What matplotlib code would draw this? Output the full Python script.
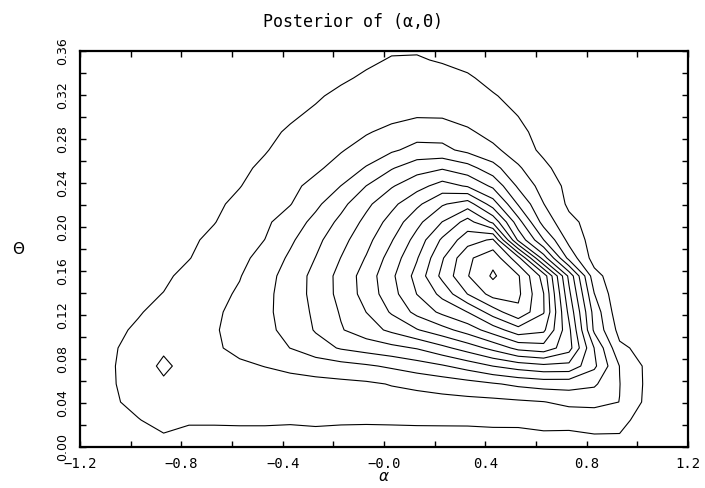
import matplotlib
matplotlib.use('Agg')
import matplotlib.pyplot as plt
from matplotlib.ticker import MultipleLocator

# grid nodes of the posterior surface
alpha_nodes = [-1.07, -0.97, -0.87, -0.77, -0.67, -0.57, -0.47, -0.37, -0.27, -0.17, -0.07,
               0.03, 0.13, 0.23, 0.33, 0.43, 0.53, 0.63, 0.73, 0.83, 0.93, 1.03]
theta_nodes = [0.0082, 0.0245, 0.0409, 0.0573, 0.0736, 0.0900, 0.1064, 0.1227, 0.1391, 0.1555,
               0.1718, 0.1882, 0.2045, 0.2209, 0.2373, 0.2536, 0.2700, 0.2864, 0.3027, 0.3191,
               0.3355, 0.3518, 0.3682]

# posterior height (in contour-level units), one row per theta node
density = [
    [0.3, 0.4, 0.85, 0.75, 0.7, 0.68, 0.68, 0.65, 0.68, 0.6, 0.63, 0.6, 0.6, 0.58, 0.6, 0.68, 0.65, 0.8, 0.78, 0.9, 0.9, 0.3],
    [0.6, 0.95, 1.4, 1.1, 1.12, 1.15, 1.15, 1.12, 1.18, 1.15, 1.12, 1.15, 1.18, 1.2, 1.2, 1.22, 1.25, 1.3, 1.3, 1.35, 1.3, 0.6],
    [0.85, 1.35, 1.65, 1.45, 1.35, 1.35, 1.37, 1.4, 1.45, 1.5, 1.55, 1.6, 1.65, 1.68, 1.72, 1.75, 1.85, 1.97, 2.25, 2.3, 1.99, 0.85],
    [0.92, 1.55, 1.92, 1.7, 1.62, 1.6, 1.62, 1.65, 1.7, 1.76, 1.85, 2.05, 2.2, 2.4, 2.62, 2.9, 3.2, 3.4, 3.4, 3.15, 2.02, 0.9],
    [0.92, 1.75, 2.1, 1.81, 1.8, 1.85, 2.02, 2.23, 2.45, 2.66, 2.87, 3.15, 3.52, 3.89, 4.41, 5.01, 5.45, 5.75, 5.7, 4.2, 1.98, 0.88],
    [0.88, 1.48, 1.92, 1.75, 1.88, 2.22, 2.61, 3.01, 3.59, 4.09, 4.41, 4.72, 5.07, 5.73, 6.46, 7.3, 8.3, 8.6, 7.4, 3.98, 1.2, 0.7],
    [0.78, 1.15, 1.6, 1.65, 1.93, 2.28, 2.75, 3.31, 4.08, 4.92, 5.56, 6.21, 6.93, 7.64, 8.45, 9.5, 10.6, 10.2, 7.25, 2.8, 0.68, 0.25],
    [0.6, 0.92, 1.32, 1.55, 1.86, 2.26, 2.79, 3.43, 4.18, 5.09, 6.01, 7.12, 8.3, 9.23, 10.01, 11.5, 12.8, 11.07, 6.75, 2.6, 0.31, 0.1],
    [0.5, 0.8, 1.02, 1.38, 1.72, 2.12, 2.75, 3.46, 4.3, 5.3, 6.38, 7.62, 9.02, 10.29, 12.02, 13.4, 13.2, 11.02, 6.25, 2.02, 0.2, 0.05],
    [0.45, 0.7, 0.86, 1.22, 1.58, 1.95, 2.63, 3.42, 4.3, 5.32, 6.44, 7.79, 9.35, 11.27, 12.95, 14.15, 13.1, 10.6, 5.75, 1.35, 0.3, 0.1],
    [0.4, 0.62, 0.72, 0.97, 1.36, 1.76, 2.33, 3.17, 4.02, 5.02, 6.07, 7.43, 8.92, 10.9, 12.8, 13.7, 11.33, 6.5, 2.67, 0.58, 0.2, 0.05],
    [0.35, 0.55, 0.62, 0.85, 1.2, 1.6, 2.01, 2.83, 3.73, 4.67, 5.68, 6.93, 8.38, 10.17, 11.56, 12.15, 6.8, 4.02, 1.7, 0.6, 0.22, 0.05],
    [0.3, 0.48, 0.53, 0.75, 0.97, 1.39, 1.83, 2.46, 3.29, 4.25, 5.26, 6.38, 7.71, 9.02, 10.4, 8.8, 5.4, 2.6, 1.25, 0.62, 0.22, 0.05],
    [0.27, 0.42, 0.46, 0.65, 0.85, 1.19, 1.58, 1.96, 2.78, 3.71, 4.78, 5.73, 6.78, 7.89, 8.5, 6.5, 3.9, 2.02, 0.82, 0.5, 0.2, 0.05],
    [0.25, 0.37, 0.4, 0.57, 0.75, 0.97, 1.36, 1.76, 2.29, 3.01, 4.01, 4.91, 5.64, 6.4, 5.9, 4.8, 2.83, 1.58, 0.75, 0.45, 0.18, 0.05],
    [0.22, 0.33, 0.35, 0.5, 0.66, 0.85, 1.14, 1.48, 1.83, 2.36, 3.08, 3.92, 4.6, 4.9, 4.4, 3.38, 2.12, 1.25, 0.42, 0.3, 0.15, 0.04],
    [0.2, 0.28, 0.3, 0.44, 0.58, 0.74, 0.95, 1.27, 1.6, 1.93, 2.38, 2.86, 3.3, 3.25, 2.74, 2.21, 1.54, 0.77, 0.4, 0.25, 0.12, 0.04],
    [0.18, 0.25, 0.26, 0.38, 0.5, 0.64, 0.85, 1.08, 1.36, 1.64, 1.92, 2.25, 2.6, 2.6, 2.15, 1.67, 1.19, 0.72, 0.38, 0.22, 0.1, 0.03],
    [0.16, 0.22, 0.23, 0.33, 0.44, 0.56, 0.7, 0.9, 1.1, 1.3, 1.5, 1.7, 1.85, 1.82, 1.6, 1.3, 0.97, 0.6, 0.33, 0.2, 0.1, 0.03],
    [0.14, 0.19, 0.2, 0.28, 0.38, 0.48, 0.6, 0.75, 0.92, 1.15, 1.3, 1.45, 1.55, 1.5, 1.3, 1.05, 0.8, 0.5, 0.3, 0.18, 0.09, 0.03],
    [0.12, 0.16, 0.17, 0.24, 0.32, 0.41, 0.5, 0.62, 0.76, 0.9, 1.1, 1.22, 1.3, 1.25, 1.08, 0.81, 0.62, 0.42, 0.26, 0.15, 0.08, 0.03],
    [0.1, 0.13, 0.14, 0.2, 0.27, 0.34, 0.42, 0.52, 0.63, 0.75, 0.88, 1.05, 1.06, 0.94, 0.8, 0.64, 0.5, 0.35, 0.22, 0.13, 0.07, 0.02],
    [0.08, 0.11, 0.12, 0.17, 0.23, 0.29, 0.36, 0.44, 0.53, 0.63, 0.73, 0.83, 0.85, 0.8, 0.68, 0.55, 0.42, 0.3, 0.19, 0.11, 0.06, 0.02],
]

contour_levels = [1, 2, 3, 4, 5, 6, 7, 8, 9, 10, 11, 12, 13, 14]

x_ticks = [-1.2, -0.8, -0.4, 0.0, 0.4, 0.8, 1.2]
x_tick_labels = ['\u22121.2', '\u22120.8', '\u22120.4', '\u22120.0', '0.4', '0.8', '1.2']
y_ticks = [0.00, 0.04, 0.08, 0.12, 0.16, 0.20, 0.24, 0.28, 0.32, 0.36]
y_tick_labels = ['0.00', '0.04', '0.08', '0.12', '0.16', '0.20', '0.24', '0.28', '0.32', '0.36']


def main():
    fig = plt.figure(figsize=(7.05, 4.88), dpi=100)
    ax = fig.add_axes([0.1135, 0.084, 0.8624, 0.8115])

    ax.contour(alpha_nodes, theta_nodes, density, levels=contour_levels,
               colors='black', linewidths=0.8)

    ax.set_xlim(-1.2, 1.2)
    ax.set_ylim(0.0, 0.36)

    ax.set_xticks(x_ticks)
    ax.set_xticklabels(x_tick_labels, fontfamily='DejaVu Sans Mono', fontsize=10)
    ax.set_yticks(y_ticks)
    ax.set_yticklabels(y_tick_labels, fontsize=9, rotation=90, va='center')
    ax.xaxis.set_minor_locator(MultipleLocator(0.2))
    ax.yaxis.set_minor_locator(MultipleLocator(0.02))
    ax.tick_params(which='both', direction='in', top=True, right=True,
                   length=4, width=1)
    ax.tick_params(axis='x', pad=7)
    ax.tick_params(axis='y', pad=8)

    for s in ax.spines.values():
        s.set_linewidth(1.6)

    ax.set_xlabel('\u03b1', fontsize=11, fontstyle='italic', va='center')
    ax.xaxis.set_label_coords(0.5, -0.075)
    ax.set_ylabel('\u0398', fontsize=11, rotation=0, va='center', ha='center')
    ax.yaxis.set_label_coords(-0.102, 0.5)

    fig.text(0.5007, 0.955, 'Posterior of (\u03b1,\u0398)', ha='center', va='center',
             fontfamily='DejaVu Sans Mono', fontsize=12)

    fig.savefig('out.png', dpi=100)


if __name__ == "__main__":
    main()
